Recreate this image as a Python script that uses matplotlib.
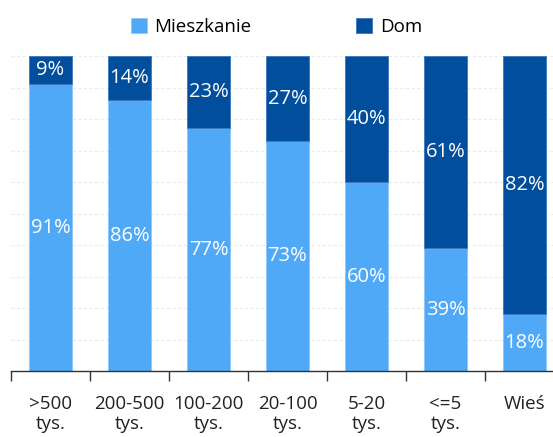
import matplotlib
matplotlib.use("Agg")
import matplotlib.pyplot as plt
import numpy as np

plt.rcParams['font.family'] = ['Open Sans', 'DejaVu Sans']

categories = [">500\ntys.", "200-500\ntys.", "100-200\ntys.", "20-100\ntys.", "5-20\ntys.", "<=5\ntys.", "Wieś"]
mieszkanie = [91, 86, 77, 73, 60, 39, 18]
dom = [9, 14, 23, 27, 40, 61, 82]
series_names = ["Mieszkanie", "Dom"]

c_light = "#4FA9F7"
c_dark = "#004E9C"

fig = plt.figure(figsize=(5.53, 4.37), dpi=100)
ax = fig.add_axes([11 / 553, 66 / 437, 553 / 553, 315 / 437])

x = np.arange(len(categories))
w = 0.55
b1 = ax.bar(x, mieszkanie, width=w, color=c_light, edgecolor="#8CC8FA", linewidth=0.6,
            label=series_names[0], zorder=2)
b2 = ax.bar(x, dom, width=w, bottom=mieszkanie, color=c_dark, edgecolor="#3A78C0",
            linewidth=0.6, label=series_names[1], zorder=2)

for xi, m, d in zip(x, mieszkanie, dom):
    ax.text(xi, m / 2, f"{m}%", ha="center", va="center", color="white",
            fontsize=14.5, zorder=3)
    ax.text(xi, m + d / 2, f"{d}%", ha="center", va="center", color="white",
            fontsize=14.5, zorder=3)

ax.set_xlim(-0.5, len(categories) - 0.5)
ax.set_ylim(0, 100)
ax.set_yticks(np.arange(0, 101, 10))
ax.yaxis.grid(True, color="#ececec", linestyle=(0, (3, 2)), linewidth=0.8, zorder=0)
ax.tick_params(axis="y", left=False, labelleft=False)

ax.set_xticks(x)
ax.set_xticklabels(categories, fontsize=13.5, color="#222222", linespacing=1.15)
ax.set_xticks(np.arange(-0.5, len(categories), 1), minor=True)
ax.tick_params(axis="x", which="major", length=0, pad=17)
ax.tick_params(axis="x", which="minor", length=7, width=1, color="#333333")

for s in ["top", "right", "left"]:
    ax.spines[s].set_visible(False)
ax.spines["bottom"].set_color("#333333")
ax.spines["bottom"].set_linewidth(1)

fig.legend(handles=[b1, b2], labels=series_names, loc="center", bbox_to_anchor=(0.5, 1 - 27 / 437),
           ncol=2, frameon=False, fontsize=13.5, handlelength=0.85, handleheight=0.85,
           handletextpad=0.4, columnspacing=5.6)

fig.savefig("out.png", dpi=100)
